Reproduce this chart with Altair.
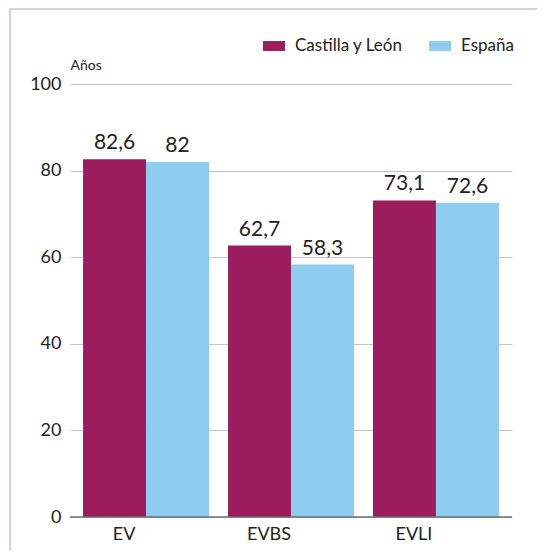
import altair as alt
import pandas as pd

categories = ["EV", "EVBS", "EVLI"]
series = ["Castilla y León", "España"]
cyl_values = [82.6, 62.7, 73.1]
esp_values = [82.0, 58.3, 72.6]
colors = ["#9B1D5E", "#8ECDF0"]
y_ticks = [0, 20, 40, 60, 80, 100]

rows = []
for i, c in enumerate(categories):
    rows.append({"cat": c, "serie": series[0], "value": cyl_values[i]})
    rows.append({"cat": c, "serie": series[1], "value": esp_values[i]})
df = pd.DataFrame(rows)
cat_df = pd.DataFrame({"cat": categories})

FONT = "Lato"

base = alt.Chart(df).transform_calculate(
    label="replace(toString(datum.value), '.', ',')"
)

x = alt.X("cat:N", sort=categories, title=None,
          scale=alt.Scale(paddingInner=0.131, paddingOuter=0.09),
          axis=alt.Axis(labels=False, ticks=False, domain=False, grid=False))
xo = alt.XOffset("serie:N", sort=series, scale=alt.Scale(paddingInner=0))

bars = base.mark_bar().encode(
    x=x,
    xOffset=xo,
    y=alt.Y("value:Q", scale=alt.Scale(domain=[0, 100]),
            axis=alt.Axis(values=y_ticks, title="Años", titleAngle=0,
                          titleAlign="left", titleBaseline="bottom",
                          titleX=0, titleY=-12, titleFontSize=14,
                          titleFontWeight="normal", titleColor="#222",
                          titleFont=FONT,
                          labelFontSize=18, labelColor="#222", labelFont=FONT,
                          labelPadding=9, ticks=False, domain=False,
                          grid=True, gridColor="#c4c4c4", gridWidth=1)),
    color=alt.Color("serie:N", sort=series,
                    scale=alt.Scale(domain=series, range=colors),
                    legend=alt.Legend(title=None, orient="none",
                                      legendX=193, legendY=-49,
                                      direction="horizontal",
                                      symbolType="M-1,-0.45L1,-0.45L1,0.45L-1,0.45Z",
                                      symbolSize=484, symbolStrokeWidth=0,
                                      labelFontSize=17, labelFont=FONT,
                                      labelColor="#222", labelOffset=10,
                                      columnPadding=26)),
)

texts = base.mark_text(baseline="bottom", dy=-6, fontSize=21, font=FONT,
                       color="#222").encode(
    x=alt.X("cat:N", sort=categories),
    xOffset=alt.XOffset("serie:N", sort=series),
    y="value:Q",
    text="label:N",
)

cat_labels = alt.Chart(cat_df).mark_text(
    baseline="middle", align="center", dx=-22, fontSize=18, font=FONT,
    color="#222").encode(
    x=alt.X("cat:N", sort=categories),
    y=alt.value(451),
    text="cat:N",
)

baseline = alt.Chart(pd.DataFrame({"v": [0]})).mark_rule(
    color="#6e6e6e", strokeWidth=1.5).encode(y="v:Q")

frame = alt.Chart(pd.DataFrame({"v": [0]})).mark_rect(
    fill=None, stroke="#c9d9d9", strokeWidth=2).encode(
    x=alt.value(-60), x2=alt.value(600), y=alt.value(-75), y2=alt.value(600))

chart = alt.layer(frame, bars, texts, cat_labels, baseline).properties(
    width=442, height=433,
    autosize=alt.AutoSizeParams(type="none"),
    padding={"left": 62, "top": 76, "right": 25, "bottom": 34},
).configure(font=FONT).configure_view(stroke="transparent", strokeWidth=0,
                                      strokeOpacity=0)

chart.save("out.html", embed_options={"renderer": "svg", "actions": False})
